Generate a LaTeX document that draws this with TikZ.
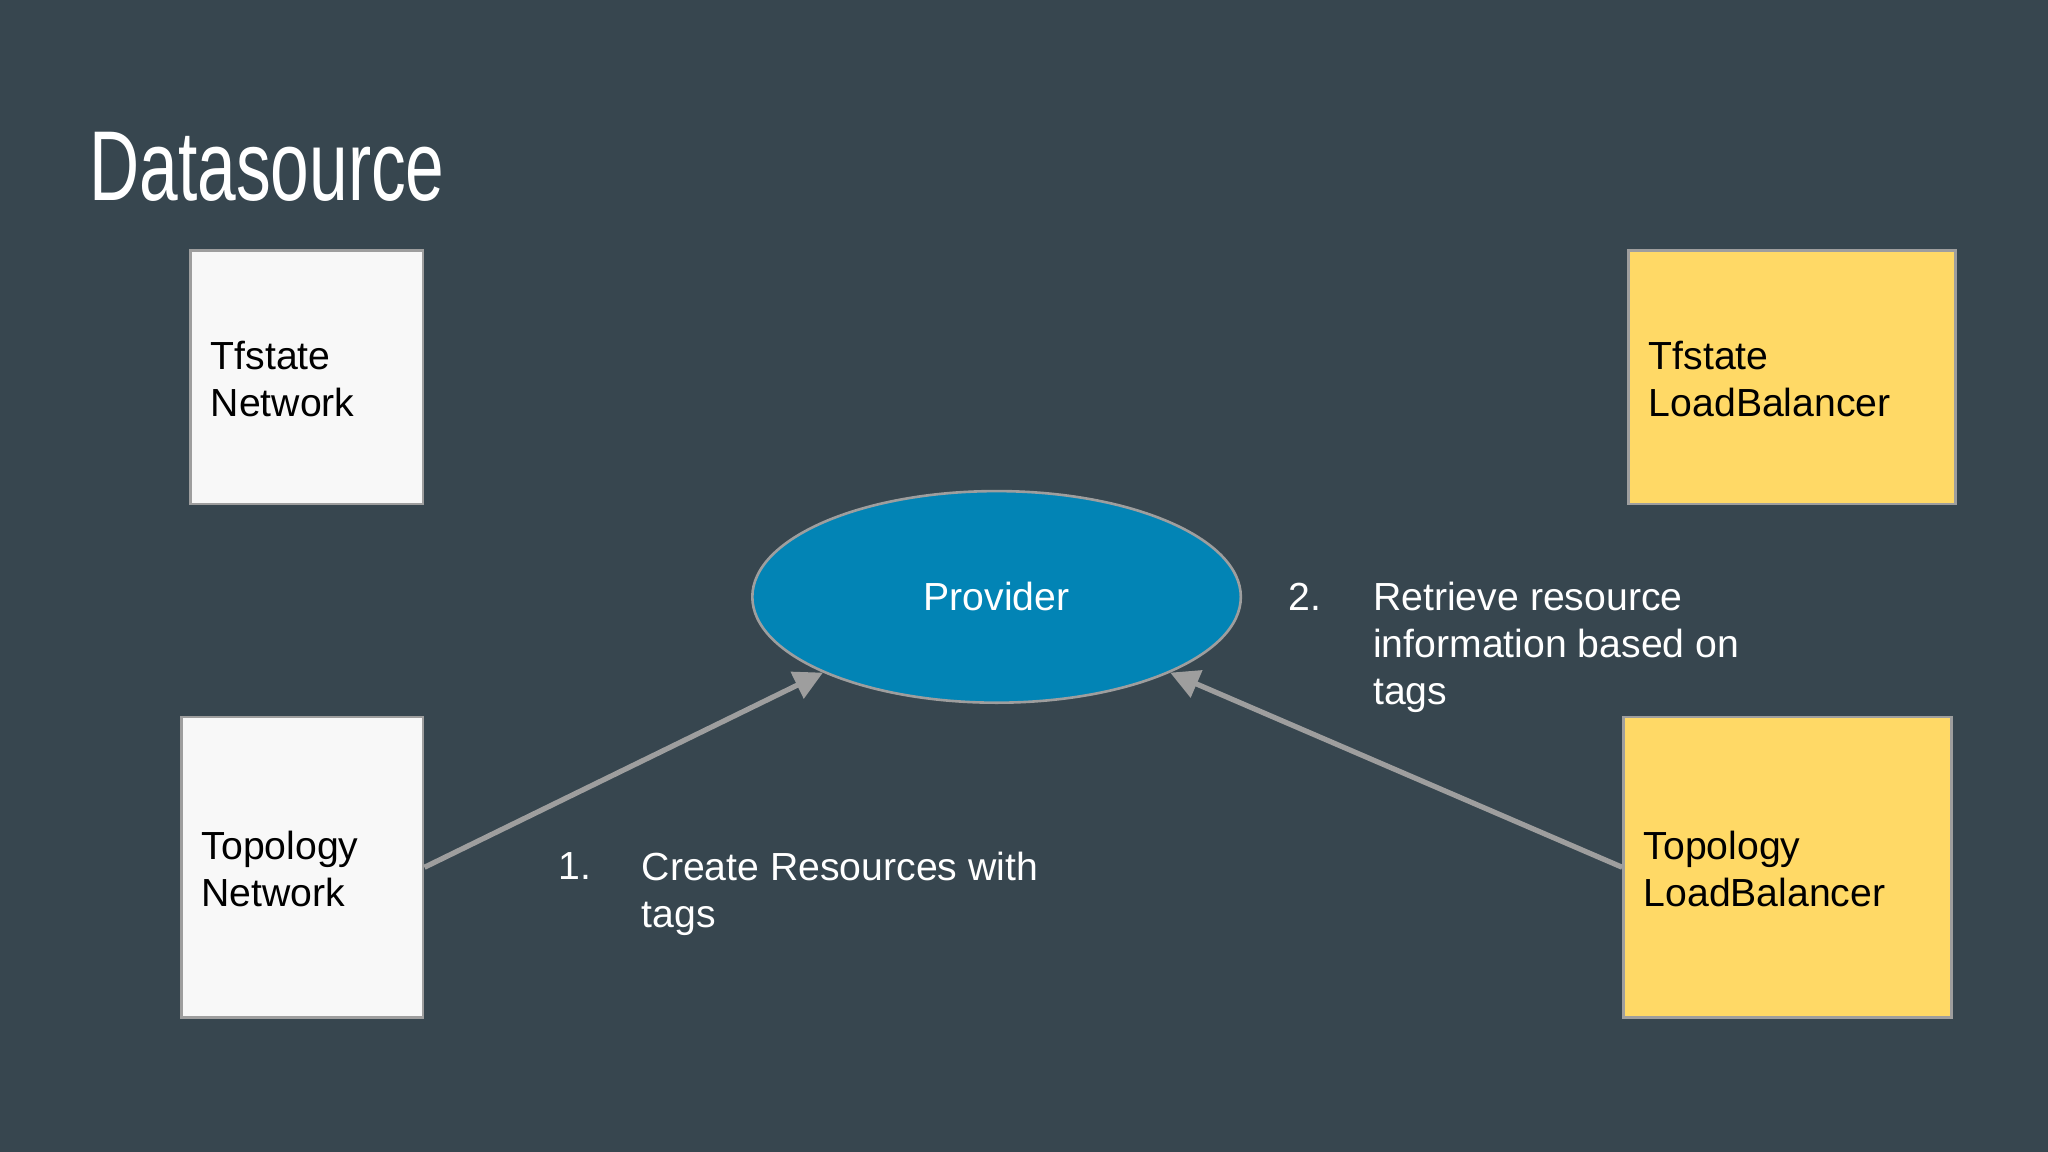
\documentclass[tikz,border=0pt]{standalone}
\usepackage{fontspec}
\setmainfont{Liberation Sans}
\usetikzlibrary{shapes.geometric,arrows.meta}
\definecolor{bg}{HTML}{37464F}
\definecolor{wbox}{HTML}{F8F8F8}
\definecolor{ybox}{HTML}{FFD966}
\definecolor{prov}{HTML}{0284B5}
\definecolor{edge}{HTML}{9E9E9E}
\begin{document}
\begin{tikzpicture}[x=0.5pt,y=-0.5pt,
  box/.style={draw=edge,line width=1pt,inner sep=0pt},
  lbl/.style={font=\fontsize{15}{18}\selectfont,align=left,anchor=west,inner sep=0pt},
  arr/.style={draw=edge,line width=2pt,-{Triangle[length=11pt,width=11pt]}}]
\fill[bg] (0,0) rectangle (1568,882);
\useasboundingbox (0,0) rectangle (1568,882);
\node[anchor=west,text=white,inner sep=0pt] (title) at (68,128) {\scalebox{0.7}[1]{\fontsize{38}{40}\selectfont Datasource}};
\node[box,fill=wbox,minimum width=89pt,minimum height=97pt] (tn) at (235,289) {};
\node[lbl] (tnl) at (161,290) {Tfstate\\Network};
\node[box,fill=wbox,minimum width=92.5pt,minimum height=115pt] (topn) at (231.5,664) {};
\node[lbl] (topnl) at (154,665) {Topology\\Network};
\node[box,fill=ybox,minimum width=125pt,minimum height=97pt] (tlb) at (1372,289) {};
\node[lbl] (tlbl) at (1262,290) {Tfstate\\LoadBalancer};
\node[box,fill=ybox,minimum width=125.5pt,minimum height=115pt] (toplb) at (1368.5,664) {};
\node[lbl] (toplbl) at (1258,665) {Topology\\LoadBalancer};
\node[ellipse,draw=edge,line width=1pt,fill=prov,minimum width=187pt,minimum height=81pt,inner sep=0pt,text=white,font=\fontsize{15}{18}\selectfont] (p) at (763,457) {Provider};
\draw[arr] (topn.east) -- (p.south west);
\draw[arr] (toplb.west) -- (p.south east);
\node[lbl,text=white] (n1) at (427,663) {1.};
\node[lbl,text=white,anchor=north west] (t1) at (491,652) {Create Resources with\\tags};
\node[lbl,text=white] (n2) at (986,457) {2.};
\node[lbl,text=white,anchor=north west] (t2) at (1051,445) {Retrieve resource\\information based on\\tags};
\end{tikzpicture}
\end{document}
